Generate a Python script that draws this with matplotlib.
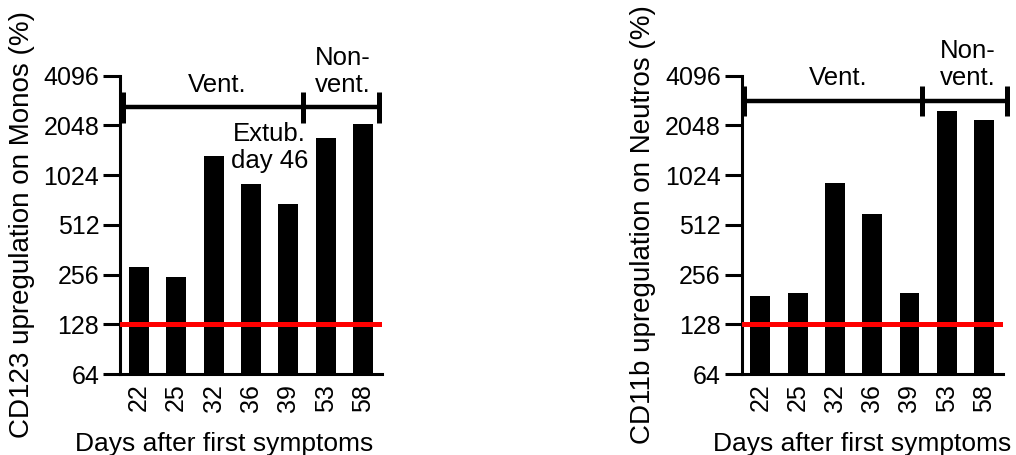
import matplotlib
matplotlib.use("Agg")
import matplotlib.pyplot as plt

plt.rcParams['font.family'] = ['Liberation Sans', 'DejaVu Sans']

days = ["22", "25", "32", "36", "39", "53", "58"]
cd123_monos = [283, 249, 1338, 906, 686, 1713, 2082]
cd11b_neutros = [190, 197, 915, 593, 197, 2517, 2210]
threshold = 128
yticks = [64, 128, 256, 512, 1024, 2048, 4096]

fig = plt.figure(figsize=(10.16, 4.55), dpi=100)
W, H = 1016, 455


def px_axes(x0, x1, ytop, ybot):
    return fig.add_axes([x0 / W, 1 - ybot / H, (x1 - x0) / W, (ybot - ytop) / H])


def panel(ax, values, ylabel, ylab_x, xlab_x, bracket_y, caps, texts):
    x = range(len(days))
    ax.bar(x, values, width=0.535, color="black", zorder=2)
    ax.axhline(threshold, color="#ff0000", lw=3.6, zorder=3)
    ax.set_yscale("log", base=2)
    ax.set_ylim(64, 4096)
    ax.set_xlim(-0.5, len(days) - 0.5)
    ax.set_yticks(yticks)
    ax.set_yticklabels([str(t) for t in yticks])
    ax.minorticks_off()
    ax.set_xticks(list(x))
    ax.set_xticklabels(days, rotation=90)
    ax.tick_params(axis="y", length=12, width=2.2, labelsize=18, pad=3)
    ax.tick_params(axis="x", length=0, labelsize=18, pad=7)
    for s in ["top", "right"]:
        ax.spines[s].set_visible(False)
    for s in ["left", "bottom"]:
        ax.spines[s].set_linewidth(2.2)

    # group bracket
    ax.plot([caps[0], caps[-1]], [bracket_y, bracket_y], color="black",
            lw=3.2, clip_on=False, solid_capstyle="butt")
    for c in caps:
        ax.plot([c, c], [bracket_y / 1.24, bracket_y * 1.24], color="black",
                lw=3.6, clip_on=False, solid_capstyle="butt")
    for tx, ty, s in texts:
        ax.text(tx, ty, s, ha="center", va="baseline", fontsize=18.5,
                linespacing=1.15)

    fig.text(ylab_x / W, 1 - 225 / H, ylabel, rotation=90, ha="center",
             va="center", fontsize=20)
    fig.text(xlab_x / W, 1 - 444 / H, "Days after first symptoms",
             ha="center", va="center", fontsize=19)


ax1 = px_axes(120, 382, 75.7, 374)
panel(ax1, cd123_monos, "CD123 upregulation on Monos (%)", 22, 224, 2640,
      [-0.42, 4.39, 6.42],
      [(2.09, 3285, "Vent."), (5.46, 3285, "Non-\nvent."),
       (3.5, 1132, "Extub.\nday 46")])

ax2 = px_axes(741.7, 1002.7, 75.7, 374)
panel(ax2, cd11b_neutros, "CD11b upregulation on Neutros (%)", 643, 862, 2880,
      [-0.44, 4.33, 6.61],
      [(2.09, 3604, "Vent."), (5.57, 3604, "Non-\nvent.")])

fig.savefig("out.png", dpi=100)
